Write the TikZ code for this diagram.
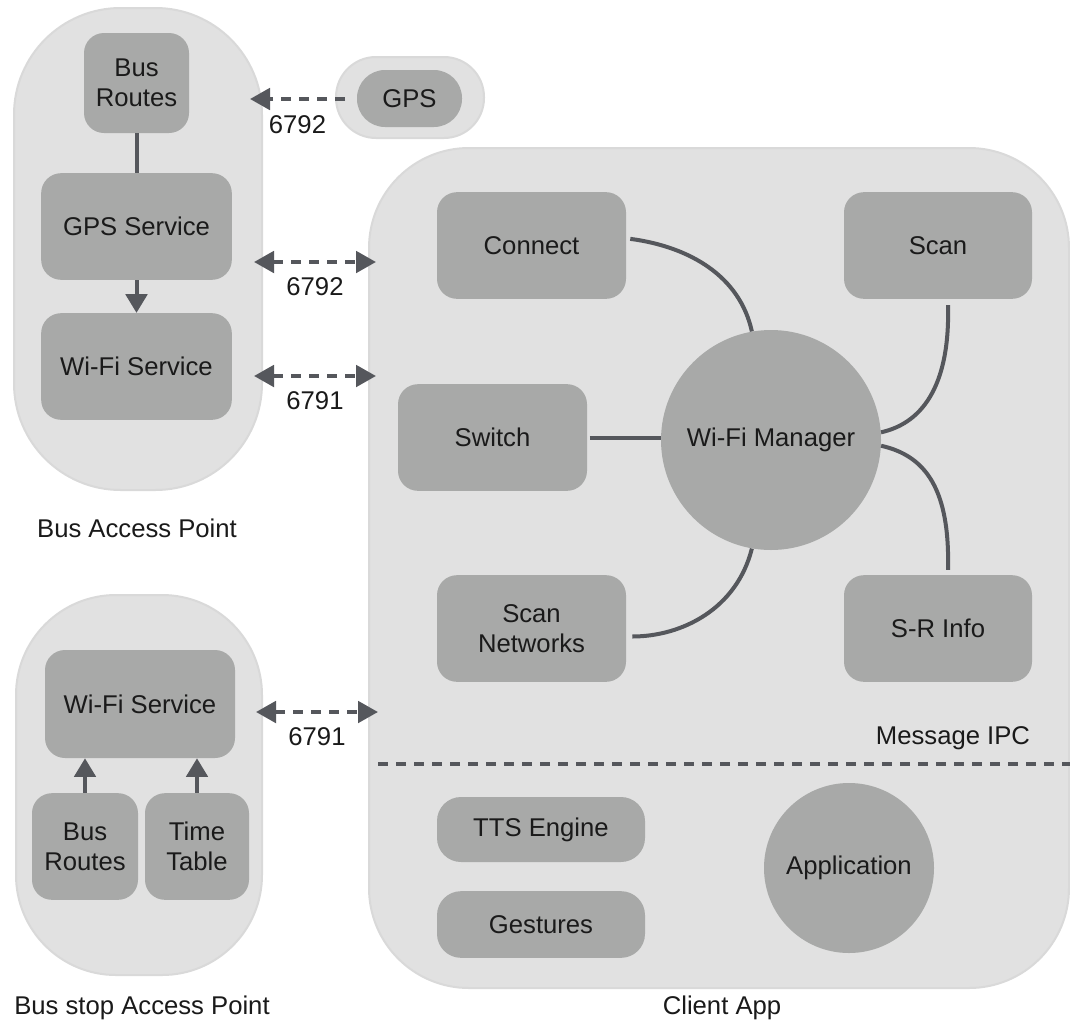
\documentclass[tikz,border=0pt]{standalone}
\usepackage{fontspec}
\setmainfont{Liberation Sans}
\usetikzlibrary{arrows.meta}
\definecolor{panelgray}{HTML}{E1E1E1}
\definecolor{paneledge}{HTML}{D9D9D9}
\definecolor{boxgray}{HTML}{A8A9A8}
\definecolor{wiregray}{HTML}{55575C}
\definecolor{inkgray}{HTML}{1A1A1A}
\begin{document}
\begin{tikzpicture}[x=0.75pt,y=-0.75pt,
  font=\fontsize{19.25}{22.5}\selectfont,
  panel/.style={fill=panelgray, draw=paneledge, line width=1.5pt, inner sep=0pt},
  box/.style={fill=boxgray, rounded corners=15pt, align=center, inner sep=0pt, text=inkgray},
  hub/.style={circle, fill=boxgray, align=center, inner sep=0pt, text=inkgray},
  caption/.style={text=inkgray, inner sep=0pt},
  wire/.style={draw=wiregray, line width=3pt},
  flow/.style={wire, -{Triangle[length=14pt,width=16pt]}},
  link/.style={wire, dash pattern=on 7.5pt off 6pt},
  duplex/.style={link, {Triangle[length=15pt,width=16pt]}-{Triangle[length=15pt,width=16pt]}},
  simplex/.style={link, -{Triangle[length=15pt,width=16pt]}}
]
\fill[white] (0,0) rectangle (1070,1025);
\useasboundingbox (0,0) rectangle (1070,1025);

% ---- container panels ----
\node[panel, rounded corners=80pt, minimum width=186pt, minimum height=361.5pt] (busap) at (138,249) {};
\node[panel, rounded corners=30pt, minimum width=111pt, minimum height=60.75pt] (gpsout) at (410,97.5) {};
\node[panel, rounded corners=75pt, minimum width=184.5pt, minimum height=285pt] (stopap) at (139,785) {};
\node[panel, rounded corners=75pt, minimum width=525pt, minimum height=630pt] (client) at (719,568) {};

% ---- bus access point ----
\node[box, minimum width=78.75pt, minimum height=75pt] (busroutes) at (136.5,83) {Bus\\Routes};
\node[box, minimum width=143pt, minimum height=80pt] (gpssvc) at (136.5,226.5) {GPS Service};
\node[box, minimum width=143pt, minimum height=80pt] (wifisvc) at (136.5,366.5) {Wi-Fi Service};
\node[caption] (busaplbl) at (137,528) {Bus Access Point};

% ---- GPS unit ----
\node[box, rounded corners=21pt, minimum width=78.75pt, minimum height=42.75pt] (gps) at (409.5,98.5) {GPS};

% ---- bus stop access point ----
\node[box, minimum width=142.5pt, minimum height=81pt] (stopwifi) at (140,704) {Wi-Fi Service};
\node[box, minimum width=79.5pt, minimum height=80pt] (stoproutes) at (85,846.5) {Bus\\Routes};
\node[box, minimum width=78pt, minimum height=80pt] (timetable) at (197,846.5) {Time\\Table};
\node[caption] (stoplbl) at (142,1008) {Bus stop Access Point};

% ---- client app ----
\node[box, minimum width=141.75pt, minimum height=80pt] (connect) at (531.5,245.5) {Connect};
\node[box, minimum width=141pt, minimum height=80pt] (scan) at (938,245.5) {Scan};
\node[box, minimum width=141.75pt, minimum height=80pt] (switch) at (492.5,437.5) {Switch};
\node[hub, minimum size=165pt] (wm) at (771,440) {Wi-Fi Manager};
\node[box, minimum width=141.75pt, minimum height=80pt] (scannet) at (531.5,628.5) {Scan\\Networks};
\node[box, minimum width=141pt, minimum height=80pt] (srinfo) at (938,628.5) {S-R Info};
\node[caption] (ipclbl) at (953,738) {Message IPC};
\node[box, rounded corners=18pt, minimum width=156pt, minimum height=48.75pt] (tts) at (541,829.5) {TTS Engine};
\node[box, rounded corners=18pt, minimum width=156pt, minimum height=50pt] (gestures) at (541,924.5) {Gestures};
\node[hub, minimum size=127.5pt] (app) at (849,868) {Application};
\node[caption] (clientlbl) at (722,1008) {Client App};

% ---- port endpoints ----
\coordinate (gpsport) at (345,99);
\coordinate (gpsin) at (250,99);
\coordinate (apA) at (254,262);
\coordinate (clA) at (376,262);
\coordinate (apB) at (254,376);
\coordinate (clB) at (376,376);
\coordinate (stopC) at (256,712);
\coordinate (clC) at (378,712);
\coordinate (ipcL) at (378,764);
\coordinate (ipcR) at (1070,764);

% ---- links inside the access points ----
\draw[wire] (busroutes.south) -- (gpssvc.north);
\draw[flow] (gpssvc.south) -- (wifisvc.north);
\draw[flow] (stoproutes.north) -- (stoproutes.north |- stopwifi.south);
\draw[flow] (timetable.north) -- (timetable.north |- stopwifi.south);

% ---- network ports ----
\draw[simplex] (gpsport) -- (gpsin) node[caption, midway, below=11pt] (p1) {6792};
\draw[duplex] (apA) -- (clA) node[caption, midway, below=10pt] (p2) {6792};
\draw[duplex] (apB) -- (clB) node[caption, midway, below=10pt] (p3) {6791};
\draw[duplex] (stopC) -- (clC) node[caption, midway, below=10pt] (p4) {6791};

% ---- Wi-Fi manager spokes ----
\draw[wire] ([xshift=3pt,yshift=5pt]connect.east) .. controls +(60,8) and +(-12,-55) .. (wm.100);
\draw[wire] ([xshift=7.5pt,yshift=-4.5pt]scan.south) .. controls +(2,75) and +(45,-10) .. (wm.4);
\draw[wire] ([xshift=2pt]switch.east) -- (wm.west |- switch.east);
\draw[wire] (wm.-100) .. controls +(-15,60) and +(50,0) .. ([xshift=4.5pt,yshift=-6pt]scannet.east);
\draw[wire] (wm.-3) .. controls +(45,10) and +(2,-80) .. ([xshift=7.5pt,yshift=3.75pt]srinfo.north);

% ---- message IPC boundary ----
\draw[link] (ipcL) -- (ipcR);
\end{tikzpicture}
\end{document}
